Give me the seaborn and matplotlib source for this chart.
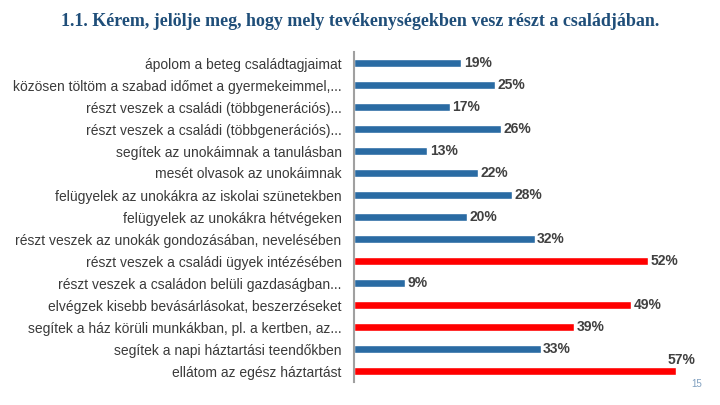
import matplotlib
matplotlib.use("Agg")
import matplotlib.pyplot as plt
import numpy as np
import pandas as pd
import seaborn as sns

sns.set_style("white")
plt.rcParams["font.family"] = ["Liberation Sans", "DejaVu Sans"]

labels = [
    "ápolom a beteg családtagjaimat",
    "közösen töltöm a szabad időmet a gyermekeimmel,...",
    "részt veszek a családi (többgenerációs)...",
    "részt veszek a családi (többgenerációs)...",
    "segítek az unokáimnak a tanulásban",
    "mesét olvasok az unokáimnak",
    "felügyelek az unokákra az iskolai szünetekben",
    "felügyelek az unokákra hétvégeken",
    "részt veszek az unokák gondozásában, nevelésében",
    "részt veszek a családi ügyek intézésében",
    "részt veszek a családon belüli gazdaságban...",
    "elvégzek kisebb bevásárlásokat, beszerzéseket",
    "segítek a ház körüli munkákban, pl. a kertben, az...",
    "segítek a napi háztartási teendőkben",
    "ellátom az egész háztartást",
]
values = [19, 25, 17, 26, 13, 22, 28, 20, 32, 52, 9, 49, 39, 33, 57]
group = ["kék", "kék", "kék", "kék", "kék", "kék", "kék", "kék", "kék",
         "piros", "kék", "piros", "piros", "kék", "piros"]

df = pd.DataFrame({"label": labels, "value": values, "group": group})
df["row"] = [f"{i:02d}" for i in range(len(df))]

fig = plt.figure(figsize=(7.2, 4.05), dpi=100)
ax = fig.add_axes([354 / 720, 1 - 382 / 405, (700 - 354) / 720, (382 - 52) / 405])

sns.barplot(data=df, y="row", x="value", hue="group", orient="h", dodge=False,
            palette={"kék": "#2a6ba3", "piros": "#ff0000"}, width=0.35,
            legend=False, ax=ax, saturation=1)

ax.set_xlim(0, 61.2)
ax.set_yticks(range(len(df)))
ax.set_yticklabels(labels, fontsize=10, color="#3a3a3a")
ax.tick_params(axis="y", length=0, pad=9)
ax.set_xticks([])
ax.set_xlabel("")
ax.set_ylabel("")
for s in ["top", "right", "bottom"]:
    ax.spines[s].set_visible(False)
ax.spines["left"].set_color("#a0a0a0")
ax.spines["left"].set_linewidth(1.5)

for i, v in enumerate(values):
    if i == len(values) - 1:
        ax.text(v - 1.5, i - 0.48, f"{v}%", va="center", ha="left",
                fontsize=10, fontweight="bold", color="#404040")
    else:
        ax.text(v + 0.4, i, f"{v}%", va="center", ha="left",
                fontsize=10, fontweight="bold", color="#404040")

fig.text(0.5, 1 - 22 / 405, "1.1. Kérem, jelölje meg, hogy mely tevékenységekben vesz részt a családjában.",
         ha="center", va="center", fontsize=13, fontweight="bold",
         color="#1f4e79", family="Liberation Serif")
fig.text(697 / 720, 1 - 384 / 405, "15", ha="center", va="center",
         fontsize=7, color="#7f9fbf")

fig.savefig("out.png", dpi=100)
